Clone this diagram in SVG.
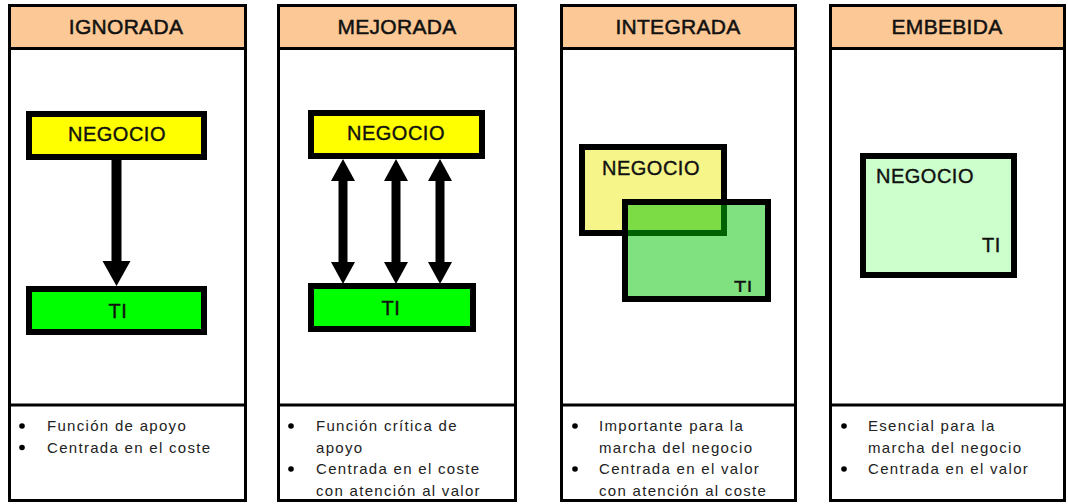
<svg xmlns="http://www.w3.org/2000/svg" width="1068" height="504" viewBox="0 0 1068 504">
<style>
  .panel { fill: #ffffff; stroke: #000; stroke-width: 3; }
  .head { fill: #fcc895; stroke: #000; stroke-width: 3; }
  .div { stroke: #000; stroke-width: 3; }
  .ht { font-family: "Liberation Sans", Arial, sans-serif; font-size: 21px; fill: #111; stroke: #111; stroke-width: 0.5px; text-anchor: middle; letter-spacing: 0.3px; }
  .box { stroke: #000; stroke-width: 6; }
  .lbl { font-family: "Liberation Sans", Arial, sans-serif; font-size: 20px; fill: #111; stroke: #111; stroke-width: 0.4px; letter-spacing: 0.5px; }
  .mid { text-anchor: middle; }
  .bt { font-family: "Liberation Sans", Arial, sans-serif; font-size: 15px; fill: #222; letter-spacing: 1.3px; }
  .arr { stroke: #000; fill: none; }
</style>
<defs>
  <marker id="ah1" markerUnits="userSpaceOnUse" markerWidth="26" markerHeight="30" refX="0" refY="14" orient="auto">
    <path d="M0,0 L25,14 L0,28 z" fill="#000"/>
  </marker>
  <marker id="ah2" markerUnits="userSpaceOnUse" markerWidth="24" markerHeight="26" refX="0" refY="12" orient="auto-start-reverse">
    <path d="M0,0 L22,12 L0,24 z" fill="#000"/>
  </marker>
  <clipPath id="ticlip"><rect x="720" y="270" width="45" height="22"/></clipPath>
</defs>
<rect width="1068" height="504" fill="#ffffff"/>

<!-- Column panels -->
<g id="col-ignorada">
  <rect class="panel" x="9.5" y="5.5" width="236" height="495"/>
  <rect class="head" x="9.5" y="5.5" width="236" height="43"/>
  <line class="div" x1="9.5" y1="405" x2="245.5" y2="405"/>
  <text class="ht" x="126" y="34">IGNORADA</text>
  <circle cx="22" cy="426" r="2.8"/>
  <circle cx="22" cy="447.5" r="2.8"/>
  <text class="bt" x="47" y="431">Función de apoyo</text>
  <text class="bt" x="47" y="452.5">Centrada en el coste</text>
</g>
<g id="col-mejorada">
  <rect class="panel" x="278.5" y="5.5" width="237" height="495"/>
  <rect class="head" x="278.5" y="5.5" width="237" height="43"/>
  <line class="div" x1="278.5" y1="405" x2="515.5" y2="405"/>
  <text class="ht" x="397" y="34">MEJORADA</text>
  <circle cx="291" cy="426" r="2.8"/>
  <circle cx="291" cy="469" r="2.8"/>
  <text class="bt" x="316" y="431">Función crítica de</text>
  <text class="bt" x="316" y="452.5">apoyo</text>
  <text class="bt" x="316" y="474">Centrada en el coste</text>
  <text class="bt" x="316" y="495.5">con atención al valor</text>
</g>
<g id="col-integrada">
  <rect class="panel" x="561.5" y="5.5" width="234" height="495"/>
  <rect class="head" x="561.5" y="5.5" width="234" height="43"/>
  <line class="div" x1="561.5" y1="405" x2="795.5" y2="405"/>
  <text class="ht" x="678" y="34">INTEGRADA</text>
  <circle cx="575" cy="426" r="2.8"/>
  <circle cx="575" cy="469" r="2.8"/>
  <text class="bt" x="599" y="431">Importante para la</text>
  <text class="bt" x="599" y="452.5">marcha del negocio</text>
  <text class="bt" x="599" y="474">Centrada en el valor</text>
  <text class="bt" x="599" y="495.5">con atención al coste</text>
</g>
<g id="col-embebida">
  <rect class="panel" x="830.5" y="5.5" width="234" height="495"/>
  <rect class="head" x="830.5" y="5.5" width="234" height="43"/>
  <line class="div" x1="830.5" y1="405" x2="1064.5" y2="405"/>
  <text class="ht" x="947" y="34">EMBEBIDA</text>
  <circle cx="844" cy="426" r="2.8"/>
  <circle cx="844" cy="469" r="2.8"/>
  <text class="bt" x="868" y="431">Esencial para la</text>
  <text class="bt" x="868" y="452.5">marcha del negocio</text>
  <text class="bt" x="868" y="474">Centrada en el valor</text>
</g>

<!-- Nodes -->
<g id="ig-negocio">
  <rect class="box" x="29" y="114" width="175" height="43" fill="#ffff00"/>
  <text class="lbl mid" x="117" y="141">NEGOCIO</text>
</g>
<g id="ig-ti">
  <rect class="box" x="29" y="289" width="175" height="43" fill="#00ff00"/>
  <text class="lbl mid" x="118" y="318">TI</text>
</g>
<g id="me-negocio">
  <rect class="box" x="311" y="113" width="171" height="43" fill="#ffff00"/>
  <text class="lbl mid" x="396" y="140">NEGOCIO</text>
</g>
<g id="me-ti">
  <rect class="box" x="311" y="286" width="162" height="43" fill="#00ff00"/>
  <text class="lbl mid" x="391" y="315">TI</text>
</g>
<g id="in-negocio">
  <rect class="box" x="582" y="147" width="142" height="86" fill="#f6f58a"/>
  <text class="lbl" x="602" y="175">NEGOCIO</text>
</g>
<g id="in-ti">
  <rect class="box" x="625" y="202" width="143" height="97" fill="#00c400" fill-opacity="0.5"/>
  <text class="lbl" x="734" y="295" clip-path="url(#ticlip)">TI</text>
</g>
<g id="em-negocio-ti">
  <rect class="box" x="863" y="156" width="151" height="119" fill="#ccffcc"/>
  <text class="lbl" x="876" y="183">NEGOCIO</text>
  <text class="lbl" x="982" y="252">TI</text>
</g>

<!-- Connectors -->
<g id="connectors">
  <line class="arr" x1="116.5" y1="160" x2="116.5" y2="261" stroke-width="10" marker-end="url(#ah1)"/>
  <line class="arr" x1="343" y1="181" x2="343" y2="262" stroke-width="9" marker-start="url(#ah2)" marker-end="url(#ah2)"/>
  <line class="arr" x1="396" y1="181" x2="396" y2="262" stroke-width="9" marker-start="url(#ah2)" marker-end="url(#ah2)"/>
  <line class="arr" x1="440" y1="181" x2="440" y2="262" stroke-width="9" marker-start="url(#ah2)" marker-end="url(#ah2)"/>
</g>
</svg>
